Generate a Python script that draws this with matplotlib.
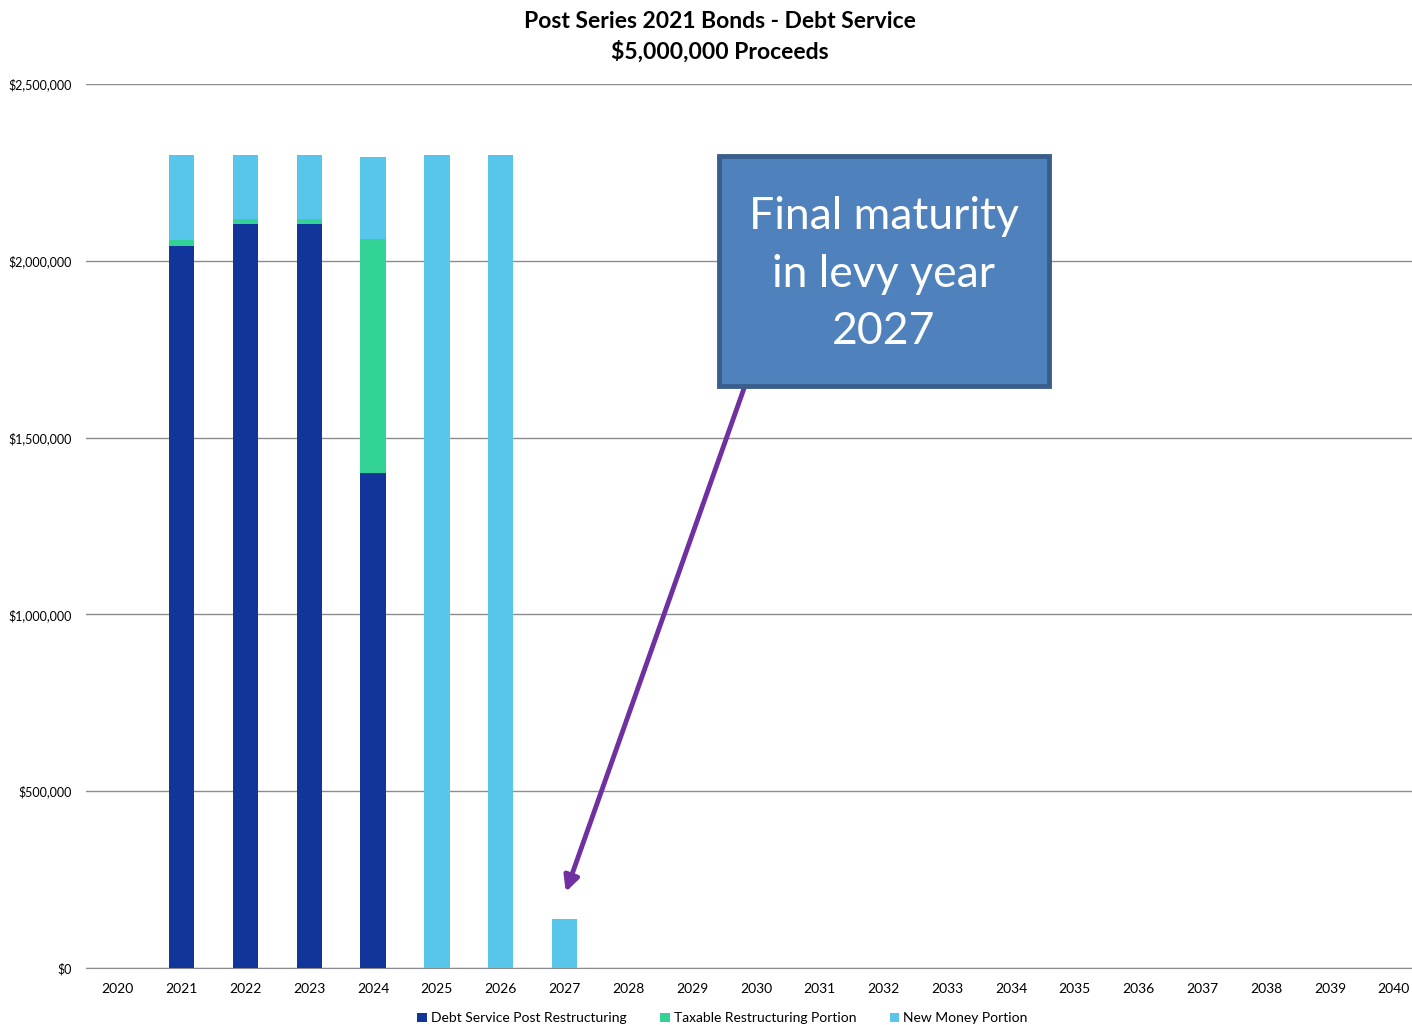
import matplotlib
matplotlib.use("Agg")
import matplotlib.pyplot as plt
from matplotlib.patches import FancyBboxPatch
from matplotlib.ticker import FuncFormatter

plt.rcParams['font.family'] = ['Lato', 'DejaVu Sans']

years = [str(y) for y in range(2020, 2041)]
debt_service = [0, 2042000, 2105000, 2105000, 1401000] + [0] * 16
taxable = [0, 17000, 12000, 12000, 661000] + [0] * 16
new_money = [0, 240000, 181000, 181000, 232000, 2298000, 2298000, 139000] + [0] * 13

c_dark = '#11359A'
c_green = '#32D394'
c_light = '#58C5EA'

fig = plt.figure(figsize=(14.12, 10.25), dpi=100)
ax = fig.add_axes([86 / 1412, 1 - 968 / 1025, 1339.8 / 1412, 884 / 1025])

x = range(len(years))
bottom2 = [a + b for a, b in zip(debt_service, taxable)]
ax.bar(x, debt_service, width=0.4, color=c_dark, label='Debt Service Post Restructuring', zorder=3)
ax.bar(x, taxable, width=0.4, bottom=debt_service, color=c_green, label='Taxable Restructuring Portion', zorder=3)
ax.bar(x, new_money, width=0.4, bottom=bottom2, color=c_light, label='New Money Portion', zorder=3)

ax.set_xlim(-0.5, 20.5)
ax.set_ylim(0, 2500000)
ax.set_xticks(list(x))
ax.set_xticklabels(years, fontsize=10)
ax.set_yticks([0, 500000, 1000000, 1500000, 2000000, 2500000])
ax.yaxis.set_major_formatter(FuncFormatter(lambda v, p: '$0' if v == 0 else f'${v:,.0f}'))
ax.tick_params(axis='y', labelsize=9, length=0, pad=10)
ax.tick_params(axis='x', length=0, pad=11)
ax.grid(axis='y', color='#8c8c8c', linewidth=1, zorder=0)
for s in ['top', 'right', 'left']:
    ax.spines[s].set_visible(False)
ax.spines['bottom'].set_color('#8c8c8c')

fig.text(0.51, 1 - 21 / 1025, 'Post Series 2021 Bonds - Debt Service', ha='center', va='center',
         fontsize=16.5, fontweight='bold')
fig.text(0.51, 1 - 52 / 1025, '$5,000,000 Proceeds', ha='center', va='center',
         fontsize=16.5, fontweight='bold')

ax.legend(loc='center', bbox_to_anchor=(0.475, -0.057), ncol=3, frameon=False, fontsize=10,
          handlelength=0.7, handleheight=0.7, handletextpad=0.3, columnspacing=2.4)

# annotation box
box = FancyBboxPatch((0.4725, 0.6584), 0.2463, 0.2602, boxstyle='square,pad=0',
                     transform=ax.transAxes, facecolor='#4F81BD', edgecolor='#3A5E8C',
                     linewidth=3.5, zorder=6, clip_on=False)
ax.add_patch(box)
ax.text(0.5956, 0.785, 'Final maturity\nin levy year\n2027', transform=ax.transAxes,
        ha='center', va='center', color='white', fontsize=32, linespacing=1.5, zorder=7)
ax.annotate('', xy=(7.02, 215000), xycoords='data', xytext=(0.4926, 0.662), textcoords='axes fraction',
            arrowprops=dict(arrowstyle='-|>,head_length=0.9,head_width=0.45', color='#7030A0',
                            linewidth=3.5, shrinkA=0, shrinkB=0), zorder=5)

fig.savefig('out.png', dpi=100)
